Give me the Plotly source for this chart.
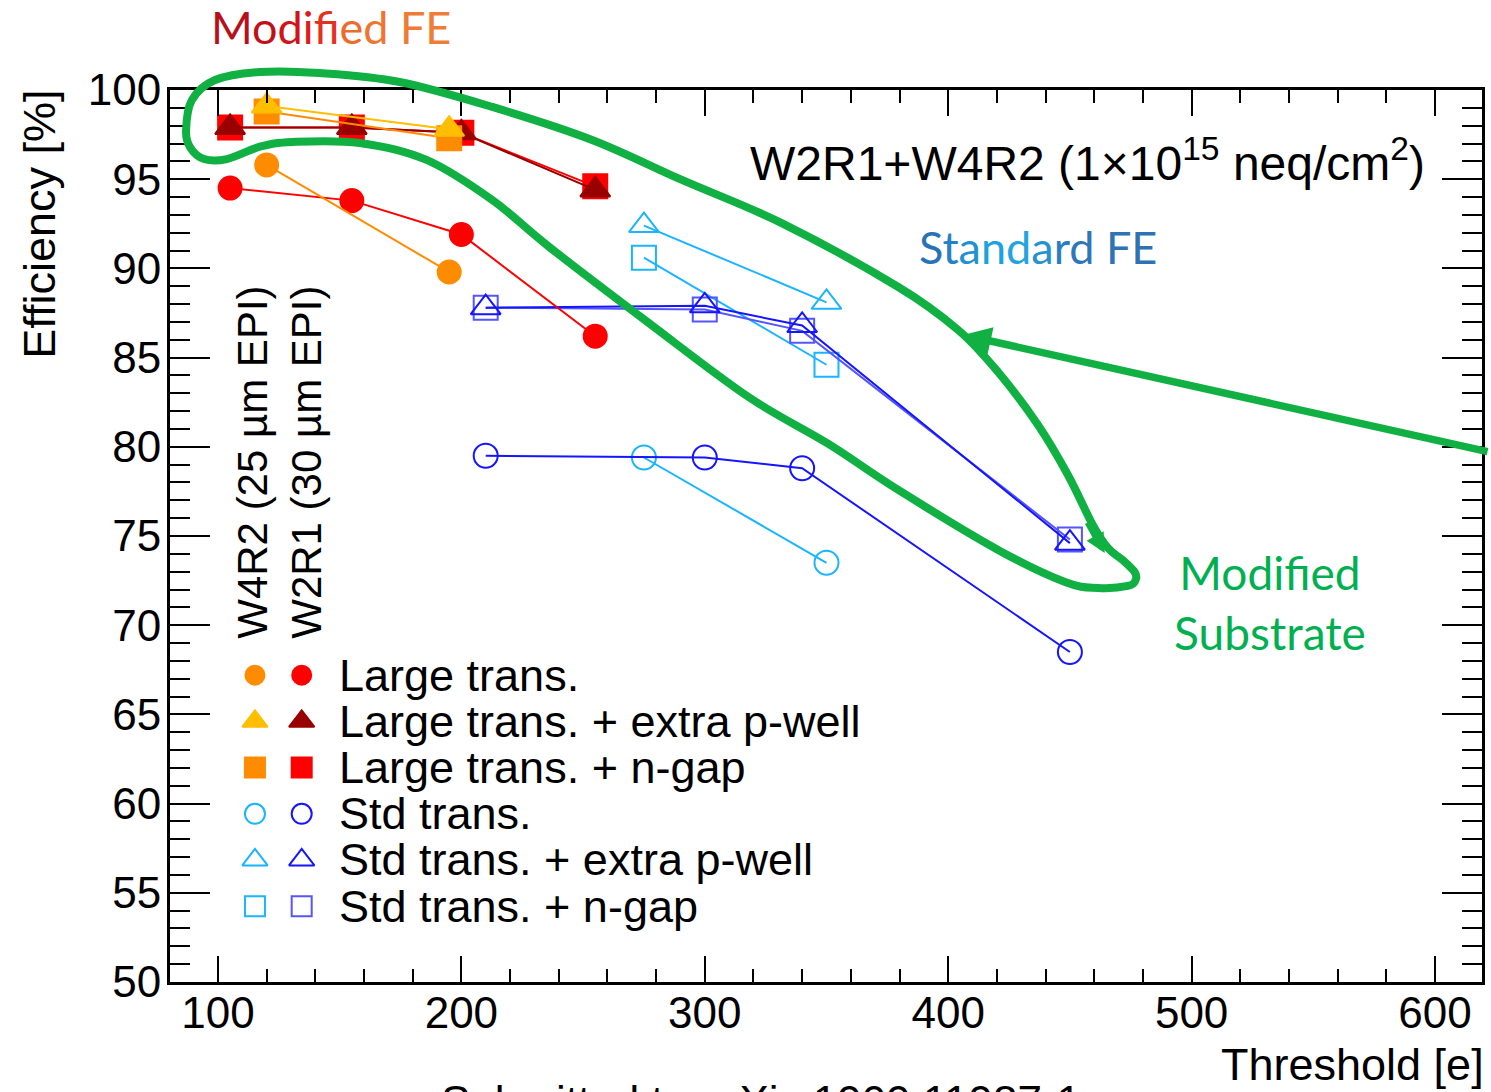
import plotly.graph_objects as go

# ---------------- data: efficiency [%] vs threshold [e] ----------------
# W4R2 (25 um EPI) and W2R1 (30 um EPI), irradiated to 1e15 neq/cm2
THR_W4R2_LARGE = [120, 195]
THR_W2R1_LARGE = [105, 155, 200, 255]
THR_W4R2_STD = [275, 350]
THR_W2R1_STD = [210, 300, 340, 450]

EFF_W4R2_LARGE = [95.8, 89.8]
EFF_W2R1_LARGE = [94.5, 93.8, 91.9, 86.2]
EFF_W4R2_LARGE_PWELL = [99.1, 97.8]
EFF_W2R1_LARGE_PWELL = [97.9, 97.9, 97.6, 94.4]
EFF_W4R2_LARGE_NGAP = [98.8, 97.3]
EFF_W2R1_LARGE_NGAP = [97.9, 97.9, 97.6, 94.6]

EFF_W4R2_STD = [79.4, 73.5]
EFF_W2R1_STD = [79.5, 79.4, 78.8, 68.5]
EFF_W4R2_STD_PWELL = [92.4, 88.1]
EFF_W2R1_STD_PWELL = [87.8, 87.9, 86.8, 74.6]
EFF_W4R2_STD_NGAP = [90.6, 84.6]
EFF_W2R1_STD_NGAP = [87.8, 87.7, 86.5, 74.8]

LEGEND_LABELS = [
    "Large trans.",
    "Large trans. + extra p-well",
    "Large trans. + n-gap",
    "Std trans.",
    "Std trans. + extra p-well",
    "Std trans. + n-gap",
]
SAMPLE_LABELS = ["W4R2 (25 µm EPI)", "W2R1 (30 µm EPI)"]

X_TICKS = [100, 200, 300, 400, 500, 600]
Y_TICKS = [50, 55, 60, 65, 70, 75, 80, 85, 90, 95, 100]

# ---------------- styling ----------------
XR = [80.3, 619.3]
YR = [50.0, 100.0]
ROOT_FONT = "Liberation Sans"
OFFICE_FONT = "Lato"
GREEN = "#10B043"

ORANGE = "#FF8C00"
GOLD = "#FFBF00"
RED = "#FF0000"
DARKRED = "#990000"
SKY = "#1AB4FF"
BLUE = "#1515FF"
VIOLET = "#5555FF"

# (x, y, colour, symbol, size, legend row, legend column)
SERIES = [
    (THR_W4R2_STD, EFF_W4R2_STD, SKY, "circle-open", 24, 3, 0),
    (THR_W4R2_STD, EFF_W4R2_STD_PWELL, SKY, "triangle-up-open", 26, 4, 0),
    (THR_W4R2_STD, EFF_W4R2_STD_NGAP, SKY, "square-open", 24, 5, 0),
    (THR_W2R1_STD, EFF_W2R1_STD, BLUE, "circle-open", 24, 3, 1),
    (THR_W2R1_STD, EFF_W2R1_STD_NGAP, VIOLET, "square-open", 24, 5, 1),
    (THR_W2R1_STD, EFF_W2R1_STD_PWELL, BLUE, "triangle-up-open", 26, 4, 1),
    (THR_W2R1_LARGE, EFF_W2R1_LARGE, RED, "circle", 23, 0, 1),
    (THR_W4R2_LARGE, EFF_W4R2_LARGE, ORANGE, "circle", 23, 0, 0),
    (THR_W2R1_LARGE, EFF_W2R1_LARGE_NGAP, RED, "square", 24, 2, 1),
    (THR_W2R1_LARGE, EFF_W2R1_LARGE_PWELL, DARKRED, "triangle-up", 26, 1, 1),
    (THR_W4R2_LARGE, EFF_W4R2_LARGE_NGAP, ORANGE, "square", 24, 2, 0),
    (THR_W4R2_LARGE, EFF_W4R2_LARGE_PWELL, GOLD, "triangle-up", 26, 1, 0),
]

# legend key placement (data units)
LEG_COL_X = [115.2, 134.4]
LEG_TEXT_X = 149.0
LEG_ROW0_Y = 67.2
LEG_ROW_STEP = -2.59

fig = go.Figure()

for xs, ys, col, sym, size, row, column in SERIES:
    fig.add_trace(go.Scatter(
        x=xs, y=ys, mode="lines+markers",
        line=dict(color=col, width=2),
        marker=dict(symbol=sym, size=size, color=col,
                    line=dict(color=col, width=2)),
        showlegend=False, cliponaxis=False, hoverinfo="skip"))

# hand-built two-column legend keys
for xs, ys, col, sym, size, row, column in SERIES:
    fig.add_trace(go.Scatter(
        x=[LEG_COL_X[column]], y=[LEG_ROW0_Y + row * LEG_ROW_STEP],
        mode="markers",
        marker=dict(symbol=sym, size=size - 4, color=col,
                    line=dict(color=col, width=2)),
        showlegend=False, cliponaxis=False, hoverinfo="skip"))

annotations = []
for i, lab in enumerate(LEGEND_LABELS):
    annotations.append(dict(
        x=LEG_TEXT_X, y=LEG_ROW0_Y + i * LEG_ROW_STEP, xref="x", yref="y",
        text=lab, showarrow=False, xanchor="left", yanchor="middle",
        font=dict(family=ROOT_FONT, size=45, color="black")))

for cx, lab in zip([114.3, 136.5], SAMPLE_LABELS):
    annotations.append(dict(
        x=cx, y=79.15, xref="x", yref="y", text=lab, textangle=-90,
        showarrow=False, xanchor="center", yanchor="middle",
        font=dict(family=ROOT_FONT, size=42, color="black")))

annotations.append(dict(
    x=596.5, y=96.1, xref="x", yref="y",
    text="W2R1+W4R2 (1×10<sup>15</sup> neq/cm<sup>2</sup>)",
    showarrow=False, xanchor="right", yanchor="middle",
    font=dict(family=ROOT_FONT, size=48, color="black")))

# axis titles (ROOT style: right / top aligned)
annotations.append(dict(
    x=-0.099, y=0.849, xref="paper", yref="paper", text="Efficiency [%]",
    textangle=-90, showarrow=False, xanchor="center", yanchor="middle",
    font=dict(family=ROOT_FONT, size=45, color="black")))
annotations.append(dict(
    x=1.003, y=-0.093, xref="paper", yref="paper", text="Threshold [e]",
    showarrow=False, xanchor="right", yanchor="middle",
    font=dict(family=ROOT_FONT, size=45, color="black")))
annotations.append(dict(
    x=0.2053, y=-0.1045, xref="paper", yref="paper",
    text="Submitted to arXiv:1909.11987-1",
    showarrow=False, xanchor="left", yanchor="top",
    font=dict(family=ROOT_FONT, size=44, color="black")))


def gradient_text(word, colours):
    out = []
    for ch, c in zip(word, colours):
        out.append(f"<span style='color:{c}'>{ch}</span>" if ch != " " else " ")
    return "".join(out)


mod_fe = gradient_text("Modified FE", [
    "#B8101A", "#C01018", "#D01418", "#E01A1A", "#E6301E", "#EA5226",
    "#EC6C2E", "#EE7632", " ", "#EF7B35", "#EF7D36"])
annotations.append(dict(
    x=0.1224, y=1.0706, xref="paper", yref="paper", text=mod_fe,
    showarrow=False, xanchor="center", yanchor="middle",
    font=dict(family=OFFICE_FONT, size=45, color="#D02020")))

std_fe = gradient_text("Standard FE", [
    "#2A72B8", "#2680C4", "#2092D2", "#1CA2E0", "#22A4DE", "#2492CF",
    "#2A7EC0", "#2E76B8", " ", "#2E74B5", "#2E72B3"])
annotations.append(dict(
    x=436.9, y=91.2, xref="x", yref="y", text=std_fe,
    showarrow=False, xanchor="center", yanchor="middle",
    font=dict(family=OFFICE_FONT, size=45, color="#2A7EC0")))

annotations.append(dict(
    x=532.4, y=71.3, xref="x", yref="y", text="Modified<br>Substrate",
    showarrow=False, xanchor="center", yanchor="middle",
    font=dict(family=OFFICE_FONT, size=46, color="#00B050")))

# pointer arrow towards the modified-substrate group
annotations.append(dict(
    x=406.1, y=86.27, xref="x", yref="y", ax=526, ay=117,
    axref="pixel", ayref="pixel", text="", showarrow=True,
    arrowhead=2, arrowsize=0.75, arrowwidth=7.5, arrowcolor=GREEN,
    standoff=0))
# small arrowhead along the lasso
annotations.append(dict(
    x=464.3, y=74.05, xref="x", yref="y", ax=-18, ay=-32,
    text="", showarrow=True, arrowhead=2, arrowsize=0.65,
    arrowwidth=6, arrowcolor=GREEN, standoff=0))

# lasso around the modified-substrate points (data units)
LASSO_X = [86.9, 89.3, 98.8, 117.2, 141.8, 174.6, 212.7, 253.7, 290.6,
           331.6, 379.5, 404.1, 420.5, 436.9, 449.2, 459.4, 465.6, 471.7,
           476.6, 477.0, 473.8, 461.5, 448.0, 420.5, 379.5, 350.8, 318.0,
           277.0, 236.1, 212.7, 185.7, 158.2, 130.7, 117.2, 103.7, 94.3,
           88.5]
LASSO_Y = [97.76, 99.44, 100.56, 101.01, 100.95, 100.45, 99.05, 97.20,
           94.96, 92.54, 88.96, 86.55, 84.19, 81.22, 78.42, 75.62, 74.33,
           73.65, 72.98, 72.53, 72.20, 72.09, 72.42, 74.22, 77.58, 80.16,
           82.79, 86.94, 91.20, 93.83, 96.08, 97.03, 97.09, 96.82, 96.13,
           96.13, 96.80]


def to_paper(x, y):
    return ((x - XR[0]) / (XR[1] - XR[0]), (y - YR[0]) / (YR[1] - YR[0]))


pts = [to_paper(x, y) for x, y in zip(LASSO_X, LASSO_Y)]
n = len(pts)
path = f"M{pts[0][0]:.5f},{pts[0][1]:.5f}"
for i in range(n):
    p0, p1, p2, p3 = pts[i - 1], pts[i], pts[(i + 1) % n], pts[(i + 2) % n]
    c1 = (p1[0] + (p2[0] - p0[0]) / 6, p1[1] + (p2[1] - p0[1]) / 6)
    c2 = (p2[0] - (p3[0] - p1[0]) / 6, p2[1] - (p3[1] - p1[1]) / 6)
    path += (f" C{c1[0]:.5f},{c1[1]:.5f} {c2[0]:.5f},{c2[1]:.5f}"
             f" {p2[0]:.5f},{p2[1]:.5f}")
path += " Z"

shapes = [dict(type="path", path=path, xref="paper", yref="paper",
               line=dict(color=GREEN, width=8), layer="above")]

axis_common = dict(
    showline=True, linewidth=3, linecolor="black", mirror="ticks",
    ticks="inside", tickwidth=2, tickcolor="black", showgrid=False,
    zeroline=False, tickfont=dict(family=ROOT_FONT, size=44, color="black"),
)

fig.update_layout(
    width=1491, height=1092,
    margin=dict(l=170, r=6, t=90, b=110),
    paper_bgcolor="white", plot_bgcolor="white",
    showlegend=False,
    xaxis=dict(range=XR, tickvals=X_TICKS, ticklen=26, ticklabelstandoff=-10,
               minor=dict(dtick=20, tick0=0, ticks="inside", ticklen=13,
                          tickwidth=2, tickcolor="black", showgrid=False),
               **axis_common),
    yaxis=dict(range=YR, tickvals=Y_TICKS, ticklen=40, ticklabelstandoff=-3,
               minor=dict(dtick=1, tick0=0, ticks="inside", ticklen=20,
                          tickwidth=2, tickcolor="black", showgrid=False),
               **axis_common),
    annotations=annotations,
    shapes=shapes,
)

fig.write_html("out.html")
